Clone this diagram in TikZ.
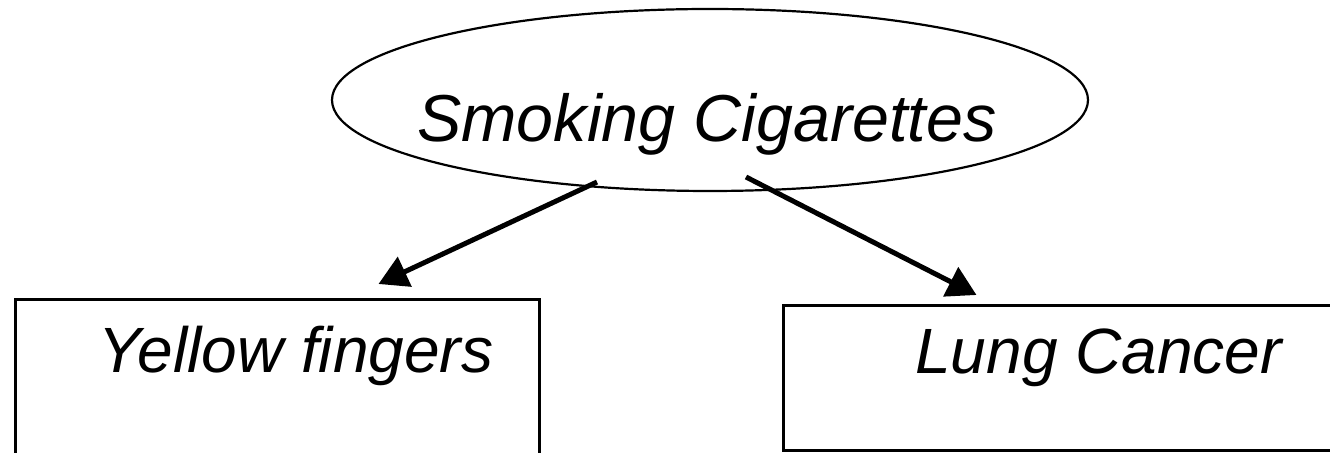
\documentclass[tikz,border=0pt]{standalone}
\usepackage{fontspec}
\setmainfont{Liberation Sans}
\usepackage{tikz}
\usetikzlibrary{shapes.geometric, arrows.meta}

\begin{document}
\begin{tikzpicture}[x=0.5pt, y=-0.5pt,
    cause/.style={ellipse, draw=black, line width=1.1pt,
                  minimum width=378pt, minimum height=91pt, inner sep=0pt},
    effect/.style={rectangle, draw=black, line width=1.5pt,
                   anchor=north west, inner sep=0pt},
    tag/.style={inner sep=0pt, font=\fontsize{32}{38}\selectfont\itshape},
    arrow/.style={-{Triangle[length=14.5pt, width=16pt]}, line width=2.5pt}
]
\useasboundingbox (0,0) rectangle (1330,453);
\clip (0,0) rectangle (1330,453);

\node (smoke) [cause] at (710,100) {};
\node (smoketxt) [tag, anchor=base, font=\fontsize{33.2}{40}\selectfont\itshape]
      at ([shift={(-3,42)}]smoke.center) {Smoking Cigarettes};

\node (yellow) [effect, minimum width=262pt, minimum height=90pt] at (14,298) {};
\node (yellowtxt) [tag, anchor=base west] at ([shift={(84,75)}]yellow.north west) {Yellow fingers};

\node (lung) [effect, minimum width=284pt, minimum height=72.5pt] at (782,304) {};
\node (lungtxt) [tag, anchor=base west] at ([shift={(133,70)}]lung.north west) {Lung Cancer};

\draw [arrow] ([shift={(-113,82)}]smoke.center) -- ([shift={(101,-14)}]yellow.north);
\draw [arrow] ([shift={(36,77)}]smoke.center) -- ([shift={(-91,-9)}]lung.north);
\end{tikzpicture}
\end{document}
